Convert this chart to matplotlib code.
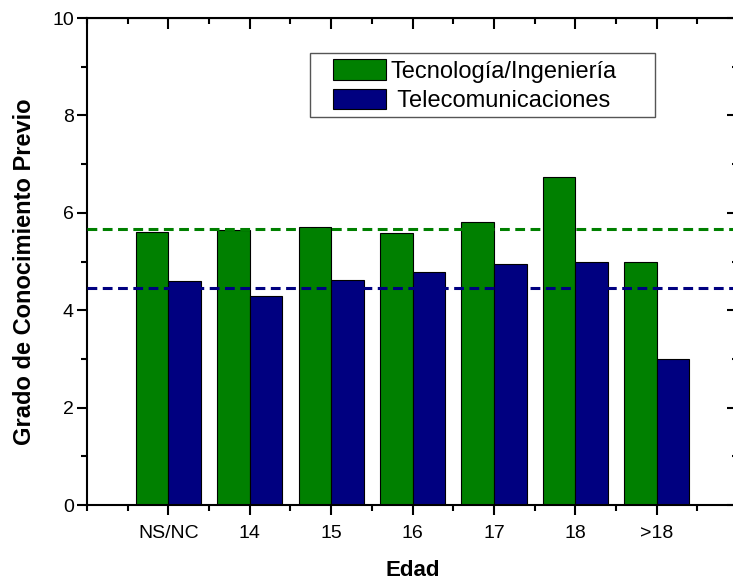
import matplotlib.pyplot as plt
from matplotlib.patches import Rectangle
from matplotlib.ticker import MultipleLocator

plt.rcParams['font.family'] = ['Liberation Sans', 'DejaVu Sans']

edades = ['NS/NC', '14', '15', '16', '17', '18', '>18']
tecnologia = [5.60, 5.65, 5.71, 5.58, 5.81, 6.74, 4.98]
telecom = [4.59, 4.29, 4.63, 4.78, 4.95, 4.99, 3.00]
media_tecnologia = 5.67
media_telecom = 4.46

VERDE = '#008000'
AZUL = '#000080'

fig = plt.figure(figsize=(7.33, 5.81), dpi=100)
ax = fig.add_axes([0.1187, 0.1308, 0.8883, 0.8382])

pos = list(range(1, len(edades) + 1))
w = 0.4
ax.bar([p - w / 2 for p in pos], tecnologia, width=w, color=VERDE,
       edgecolor='black', linewidth=0.8, label='Tecnología/Ingeniería', zorder=2)
ax.bar([p + w / 2 for p in pos], telecom, width=w, color=AZUL,
       edgecolor='black', linewidth=0.8, label=' Telecomunicaciones', zorder=2)

ax.axhline(media_tecnologia, color=VERDE, linestyle=(0, (3.2, 1.8)), linewidth=2.2, zorder=3)
ax.axhline(media_telecom, color=AZUL, linestyle=(0, (3.2, 1.8)), linewidth=2.2, zorder=3)

ax.set_xlim(0, 8)
ax.set_ylim(0, 10)
ax.set_xticks(pos)
ax.set_xticklabels(edades)
ax.xaxis.set_minor_locator(MultipleLocator(0.5))
ax.yaxis.set_major_locator(MultipleLocator(2))
ax.yaxis.set_minor_locator(MultipleLocator(1))

for s in ax.spines.values():
    s.set_linewidth(1.5)

ax.tick_params(which='both', width=1.5, labelsize=14, direction='out')
ax.tick_params(which='major', length=7.5)
ax.tick_params(which='minor', length=4)
ax.tick_params(axis='x', pad=7)
ax.tick_params(axis='y', pad=2)

# ticks en el borde superior y derecho, hacia dentro
sec_x = ax.secondary_xaxis('top')
sec_x.set_xticks(pos)
sec_x.xaxis.set_minor_locator(MultipleLocator(0.5))
sec_x.tick_params(which='both', direction='in', width=1.5, labeltop=False)
sec_x.tick_params(which='major', length=8)
sec_x.tick_params(which='minor', length=4)
sec_y = ax.secondary_yaxis('right')
sec_y.yaxis.set_major_locator(MultipleLocator(2))
sec_y.yaxis.set_minor_locator(MultipleLocator(1))
sec_y.tick_params(which='both', direction='in', width=1.5, labelright=False)
sec_y.tick_params(which='major', length=8)
sec_y.tick_params(which='minor', length=4)

ax.set_xlabel('Edad', fontsize=16, fontweight='bold', labelpad=13)
ax.set_ylabel('Grado de Conocimiento Previo', fontsize=17, fontweight='bold')
ax.yaxis.set_label_coords(-0.078, 0.479)

# marco de la leyenda dibujado aparte (más margen lateral que vertical)
ax.add_patch(Rectangle((0.3425, 0.797), 0.530, 0.131, transform=ax.transAxes,
                       facecolor='white', edgecolor='#555555', linewidth=1.0, zorder=4))
leg = ax.legend(loc='upper left', bbox_to_anchor=(0.378, 0.915), fontsize=17,
                frameon=False, borderaxespad=0, borderpad=0,
                handlelength=2.25, handleheight=0.95, handletextpad=0.2,
                labelspacing=0.25)
leg.set_zorder(5)

fig.savefig('out.png', dpi=100)
